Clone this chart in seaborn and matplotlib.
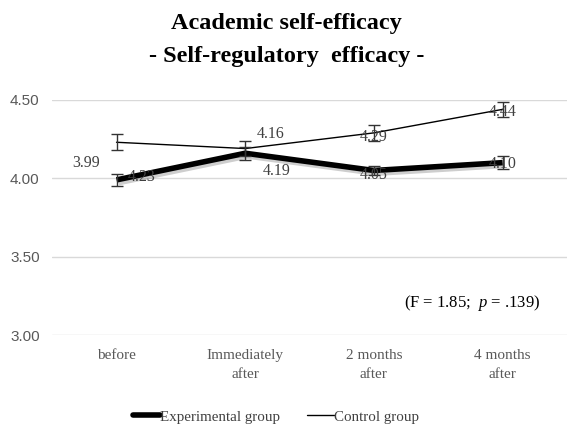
import matplotlib
matplotlib.use("Agg")
import matplotlib.pyplot as plt
import matplotlib.patheffects as pe
from matplotlib.lines import Line2D
import seaborn as sns
import pandas as pd
import numpy as np

# Measurement occasions and group means
occasions = ["before", "Immediately\nafter", "2 months\nafter", "4 months\nafter"]
experimental = [3.99, 4.16, 4.05, 4.10]
control = [4.23, 4.19, 4.29, 4.44]
experimental_se = [0.04, 0.04, 0.03, 0.04]
control_se = [0.05, 0.05, 0.05, 0.05]
y_ticks = [3.00, 3.50, 4.00, 4.50]

df = pd.DataFrame({
    "occasion": list(range(len(occasions))) * 2,
    "score": experimental + control,
    "group": ["Experimental group"] * 4 + ["Control group"] * 4,
})

sns.set_theme(style="white")
plt.rcParams["font.family"] = ["Liberation Serif", "DejaVu Serif"]
plt.rcParams["mathtext.fontset"] = "custom"
plt.rcParams["mathtext.rm"] = "Liberation Serif"
plt.rcParams["mathtext.it"] = "Liberation Serif:italic"

fig = plt.figure(figsize=(5.67, 4.29), dpi=100)
ax = fig.add_axes([0.092, 0.219, 0.908, 0.548])

sns.lineplot(data=df, x="occasion", y="score", hue="group", size="group",
             sizes={"Experimental group": 4.0, "Control group": 1.0},
             palette={"Experimental group": "black", "Control group": "black"},
             legend=False, ax=ax, estimator=None)

# soft shadow beneath the heavy line
ax.lines[0].set_path_effects([pe.SimpleLineShadow(offset=(1.5, -2), shadow_color="0.45", alpha=0.35),
                              pe.Normal()])
ax.lines[0].set_solid_capstyle("butt")

x = np.arange(len(occasions))
ax.errorbar(x, experimental, yerr=experimental_se, fmt="none", ecolor="#333333",
            elinewidth=1, capsize=4, capthick=1, zorder=5)
ax.errorbar(x, control, yerr=control_se, fmt="none", ecolor="#333333",
            elinewidth=1, capsize=4, capthick=1, zorder=5)

# value labels
exp_offsets = [(-22, 12), (18, 14), (0, -3), (0, -1)]
ctl_offsets = [(18, -25), (23, -16), (0, -3), (0, -2)]
for i in range(len(occasions)):
    ax.annotate(f"{experimental[i]:.2f}", (x[i], experimental[i]), xytext=exp_offsets[i],
                textcoords="offset points", ha="center", va="center",
                fontsize=11.5, color="#404040", zorder=6)
    ax.annotate(f"{control[i]:.2f}", (x[i], control[i]), xytext=ctl_offsets[i],
                textcoords="offset points", ha="center", va="center",
                fontsize=11.5, color="#404040", zorder=6)

ax.set_xlim(-0.5, 3.5)
ax.set_ylim(3.0, 4.5)
ax.set_yticks(y_ticks)
ax.set_yticklabels([f"{v:.2f}" for v in y_ticks],
                   family=["Liberation Sans Narrow", "Liberation Sans", "DejaVu Sans"],
                   fontsize=11, color="#595959")
ax.set_xticks(x)
ax.set_xticklabels(occasions, fontsize=11, color="#595959", linespacing=1.6)
ax.tick_params(axis="both", length=0)
ax.tick_params(axis="x", pad=10)
ax.tick_params(axis="y", pad=9)
ax.yaxis.grid(True, color="#d9d9d9", linewidth=1)
ax.set_axisbelow(True)
for s in ax.spines.values():
    s.set_visible(False)
ax.set_xlabel("")
ax.set_ylabel("")

fig.text(0.505, 0.945, "Academic self-efficacy", ha="center", va="center",
         fontsize=17.5, fontweight="bold", color="black")
fig.text(0.505, 0.868, "- Self-regulatory  efficacy -", ha="center", va="center",
         fontsize=17.5, fontweight="bold", color="black")

ax.text(0.948, 0.136, r"(F = 1.85;  $\it{p}$ = .139)", transform=ax.transAxes,
        ha="right", va="center", fontsize=12, color="black")

handles = [Line2D([], [], color="black", lw=4),
           Line2D([], [], color="black", lw=1)]
fig.legend(handles, ["Experimental group", "Control group"], loc="center",
           bbox_to_anchor=(0.487, 0.028), ncol=2, frameon=False, fontsize=10.8,
           handlelength=1.8, handletextpad=0.0, columnspacing=1.8,
           labelcolor="#404040")

fig.savefig("out.png", dpi=100)
